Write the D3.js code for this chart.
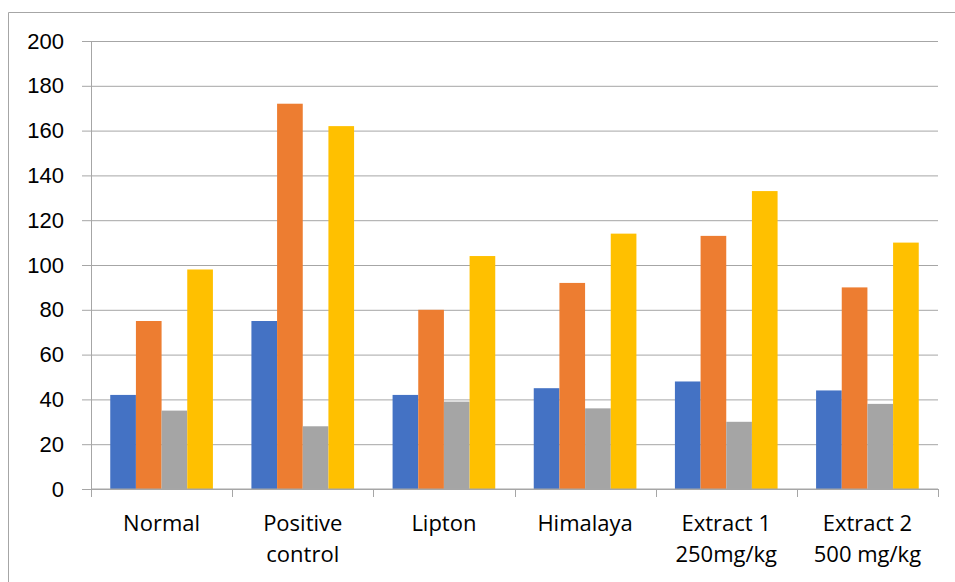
<!DOCTYPE html>
<html>
<head>
<meta charset="utf-8">
<script src="https://cdn.jsdelivr.net/npm/d3@7"></script>
<style>
  body { margin: 0; background: #fff; }
  svg { display: block; font-family: "Open Sans", sans-serif; }
</style>
</head>
<body>
<svg id="chart" width="955" height="582"></svg>
<script>
const categories = [
  ["Normal"],
  ["Positive", "control"],
  ["Lipton"],
  ["Himalaya"],
  ["Extract 1", "250mg/kg"],
  ["Extract 2", "500 mg/kg"],
];
const seriesNames = ["Series 1", "Series 2", "Series 3", "Series 4"];
const series1 = [42, 75, 42, 45, 48, 44];
const series2 = [75, 172, 80, 92, 113, 90];
const series3 = [35, 28, 39, 36, 30, 38];
const series4 = [98, 162, 104, 114, 133, 110];
const yTicks = [0, 20, 40, 60, 80, 100, 120, 140, 160, 180, 200];

const colors = ["#4472C4", "#ED7D31", "#A5A5A5", "#FFC000"];
const allSeries = [series1, series2, series3, series4];

const margin = { top: 41, right: 17, bottom: 93, left: 91 };
const WIDTH = 955;
const HEIGHT = 582;

const svg = d3.select("#chart");

// outer frame (only left/top edges fall inside the picture)
svg.append("path")
  .attr("d", `M8.5,${HEIGHT} V12.5 H${WIDTH}`)
  .attr("fill", "none")
  .attr("stroke", "#a6a6a6")
  .attr("stroke-width", 1);

const keys = categories.map((c) => c.join(" "));

const xScale = d3.scaleBand()
  .domain(keys)
  .range([margin.left, WIDTH - margin.right])
  .paddingInner(0)
  .paddingOuter(0);

const xInner = d3.scaleBand()
  .domain(seriesNames)
  .range([0, xScale.bandwidth()])
  .paddingInner(0)
  .paddingOuter(0.75);

const yScale = d3.scaleLinear()
  .domain([0, 200])
  .range([HEIGHT - margin.bottom, margin.top]);

// gridlines + y ticks
const yAxis = svg.append("g")
  .attr("transform", `translate(${margin.left},0)`)
  .call(
    d3.axisLeft(yScale)
      .tickValues(yTicks)
      .tickSize(-(WIDTH - margin.left - margin.right))
      .tickSizeOuter(0)
      .tickPadding(27)
  );
yAxis.select(".domain").remove();
yAxis.selectAll(".tick line")
  .attr("stroke", "#a6a6a6")
  .attr("x1", -9);
yAxis.selectAll(".tick text")
  .attr("fill", "#000")
  .style("font-size", "22px");

// bars
const rows = keys.map((k, i) => ({ key: k, values: allSeries.map((s) => s[i]) }));

svg.append("g")
  .selectAll("g")
  .data(rows)
  .join("g")
  .attr("transform", (d) => `translate(${xScale(d.key)},0)`)
  .selectAll("rect")
  .data((d) => d.values.map((v, j) => ({ name: seriesNames[j], value: v, color: colors[j] })))
  .join("rect")
  .attr("x", (d) => xInner(d.name))
  .attr("width", xInner.bandwidth())
  .attr("y", (d) => yScale(d.value))
  .attr("height", (d) => yScale(0) - yScale(d.value))
  .attr("fill", (d) => d.color);

// y axis line
svg.append("line")
  .attr("x1", margin.left + 0.5)
  .attr("x2", margin.left + 0.5)
  .attr("y1", yScale(200))
  .attr("y2", yScale(0) + 8)
  .attr("stroke", "#a6a6a6");

// x axis line and boundary ticks
const baseY = yScale(0);
svg.append("line")
  .attr("x1", margin.left)
  .attr("x2", WIDTH - margin.right)
  .attr("y1", baseY)
  .attr("y2", baseY)
  .attr("stroke", "#a6a6a6");

const bounds = keys.map((k) => xScale(k)).concat([WIDTH - margin.right]);
svg.append("g")
  .selectAll("line")
  .data(bounds)
  .join("line")
  .attr("x1", (d) => Math.round(d) + 0.5)
  .attr("x2", (d) => Math.round(d) + 0.5)
  .attr("y1", baseY)
  .attr("y2", baseY + 8)
  .attr("stroke", "#a6a6a6");

// category labels
const labels = svg.append("g")
  .selectAll("text")
  .data(categories)
  .join("text")
  .attr("text-anchor", "middle")
  .attr("fill", "#000")
  .style("font-size", "22px")
  .attr("x", (d, i) => xScale(keys[i]) + xScale.bandwidth() / 2)
  .attr("y", baseY + 42);

labels.selectAll("tspan")
  .data((d) => d)
  .join("tspan")
  .attr("x", function () { return this.parentNode.getAttribute("x"); })
  .attr("dy", (d, i) => (i === 0 ? 0 : 31))
  .text((d) => d);
</script>
</body>
</html>
